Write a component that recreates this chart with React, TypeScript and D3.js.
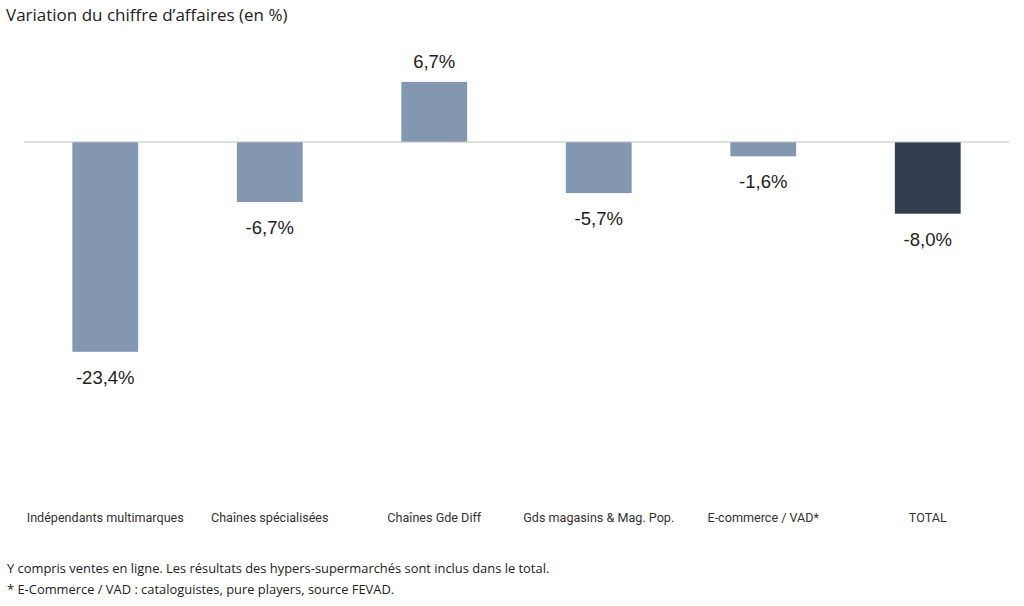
import React from "react";
import * as d3 from "d3";

const categories = [
  "Indépendants multimarques",
  "Chaînes spécialisées",
  "Chaînes Gde Diff",
  "Gds magasins & Mag. Pop.",
  "E-commerce / VAD*",
  "TOTAL",
];
const values = [-23.4, -6.7, 6.7, -5.7, -1.6, -8.0];
const valueLabels = ["-23,4%", "-6,7%", "6,7%", "-5,7%", "-1,6%", "-8,0%"];
const highlight = ["TOTAL"];

const title = "Variation du chiffre d\u2019affaires (en %)";
const footnotes = [
  "Y compris ventes en ligne. Les résultats des hypers-supermarchés sont inclus dans le total.",
  "* E-Commerce / VAD : cataloguistes, pure players, source FEVAD.",
];

const width = 1024;
const height = 606;

export default function App() {
  const x = d3.scaleBand<string>().domain(categories).range([23, 1010]).paddingInner(0.6).paddingOuter(0.3);
  const y = d3.scaleLinear().domain([-30, 10]).range([411, 52.3]);
  const y0 = y(0);

  return (
    <svg
      width={width}
      height={height}
      style={{ position: "absolute", left: 0, top: 0, background: "#fff" }}
    >
      <text x={6} y={21} fontFamily="'Open Sans', 'Noto Sans', sans-serif" fontSize={17} fill="#222">
        {title}
      </text>

      {categories.map((c, i) => {
        const v = values[i];
        const bx = x(c)!;
        const top = v >= 0 ? y(v) : y0;
        const h = Math.abs(y(v) - y0);
        const cx = bx + x.bandwidth() / 2;
        return (
          <g key={c}>
            <rect
              x={bx}
              y={top}
              width={x.bandwidth()}
              height={h}
              fill={highlight.includes(c) ? "#333F50" : "#8497B0"}
            />
            <text
              x={cx}
              y={v >= 0 ? y(v) - 14 : y(v) + 32}
              textAnchor="middle"
              fontFamily="'Liberation Sans', Arial, sans-serif"
              fontSize={18.5}
              fill="#222"
            >
              {valueLabels[i]}
            </text>
            <text
              x={cx}
              y={522}
              textAnchor="middle"
              fontFamily="Roboto, 'Noto Sans', sans-serif"
              fontSize={12.6}
              fill="#333"
            >
              {c}
            </text>
          </g>
        );
      })}

      <line x1={24} x2={1009} y1={y0} y2={y0} stroke="#BFBFBF" strokeWidth={1.2} />

      {footnotes.map((f, i) => (
        <text
          key={i}
          x={7}
          y={573 + i * 21}
          fontFamily="'Open Sans', 'Noto Sans', sans-serif"
          fontSize={12.9}
          fill="#222"
        >
          {f}
        </text>
      ))}
    </svg>
  );
}
